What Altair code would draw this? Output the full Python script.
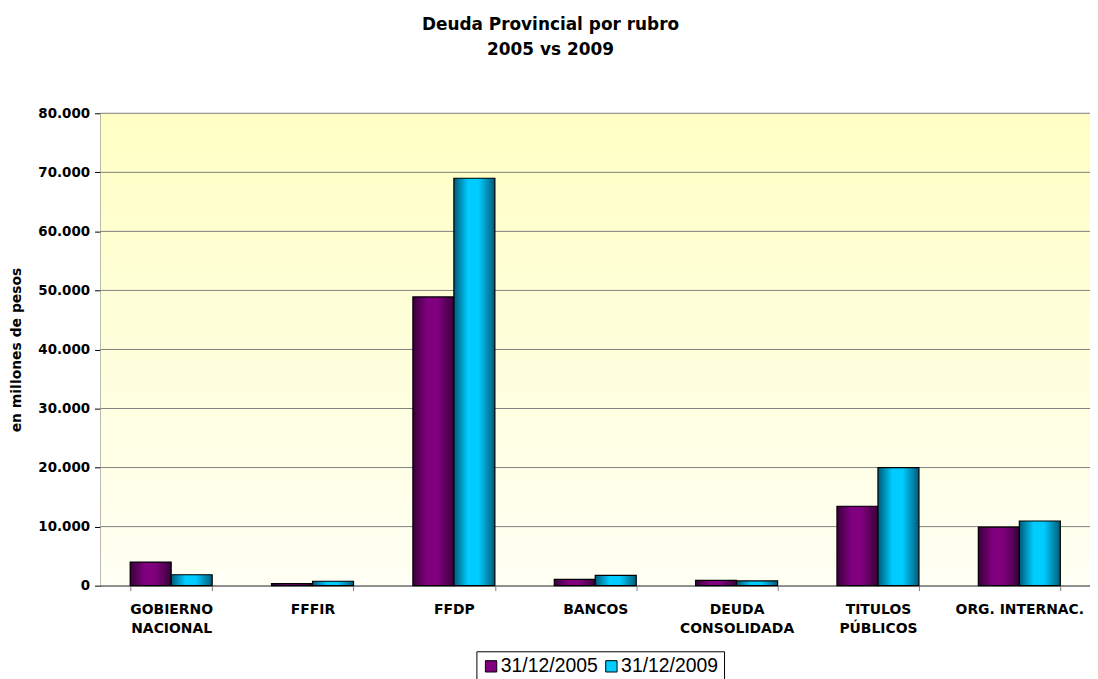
import altair as alt
import pandas as pd

# ---------------- data ----------------
categorias = ["GOBIERNO NACIONAL", "FFFIR", "FFDP", "BANCOS",
              "DEUDA CONSOLIDADA", "TITULOS PÚBLICOS", "ORG. INTERNAC."]
series = ["31/12/2005", "31/12/2009"]
valores_2005 = [4000, 350, 48900, 1050, 900, 13450, 9900]
valores_2009 = [1850, 750, 69000, 1750, 800, 20000, 10950]
y_ticks = [0, 10000, 20000, 30000, 40000, 50000, 60000, 70000, 80000]

titulo = ["Deuda Provincial por rubro", "2005 vs 2009"]
titulo_y = "en millones de pesos"

# ---------------- styles ----------------
purple = "#800080"
purple_dark = "#3a003a"
cyan = "#00CCFF"
cyan_dark = "#005a78"
FONT = "DejaVu Sans"
LEG_FONT = "Liberation Sans"

rows = []
for c, a, b in zip(categorias, valores_2005, valores_2009):
    rows.append({"rubro": c, "serie": series[0], "valor": a})
    rows.append({"rubro": c, "serie": series[1], "valor": b})
df = pd.DataFrame(rows)
grid_df = pd.DataFrame({"v": y_ticks})

W, H = 995, 475


def grad(dark, bright):
    return {
        "gradient": "linear", "x1": 0, "y1": 0, "x2": 1, "y2": 0,
        "stops": [
            {"offset": 0, "color": dark},
            {"offset": 0.35, "color": bright},
            {"offset": 0.6, "color": bright},
            {"offset": 1, "color": dark},
        ],
    }


bg_grad = {
    "gradient": "linear", "x1": 0, "y1": 0, "x2": 0, "y2": 1,
    "stops": [
        {"offset": 0, "color": "#FFFFC4"},
        {"offset": 1, "color": "#FFFFF4"},
    ],
}

y_scale = alt.Scale(domain=[0, 80000], nice=False, zero=True)
y_axis = alt.Axis(
    values=y_ticks, grid=False, title=titulo_y,
    labelExpr="replace(format(datum.value, ','), ',', '.')",
    labelFont=FONT, labelFontSize=13.5, labelFontWeight="bold", labelColor="black",
    labelPadding=5, tickSize=6, tickColor="black", domainColor="black",
    titleFont=FONT, titleFontSize=14, titleFontWeight="bold", titleColor="black",
    titlePadding=14,
)

x_enc = alt.X(
    "rubro:N", sort=categorias,
    scale=alt.Scale(domain=categorias, paddingInner=0.42, paddingOuter=0.21),
    axis=alt.Axis(
        title=None, labelAngle=0, tickBand="extent",
        labelExpr="indexof(datum.label, '.') >= 0 ? datum.label : split(datum.label, ' ')",
        labelFont=FONT, labelFontSize=14, labelFontWeight="bold", labelColor="black",
        labelLineHeight=19, labelPadding=12, labelLimit=200,
        tickSize=5, tickColor="#808080", domainColor="#909090", domainWidth=1.5,
    ),
)
xoff = alt.XOffset("serie:N", sort=series, scale=alt.Scale(domain=series, paddingInner=0, paddingOuter=0))

background = alt.Chart(pd.DataFrame({"a": [0]})).mark_rect(fill=bg_grad).encode(
    x=alt.value(0), x2=alt.value(W), y=alt.value(0), y2=alt.value(H)
)

grid = alt.Chart(grid_df).mark_rule(color="#808080", strokeWidth=1).encode(
    y=alt.Y("v:Q", scale=y_scale, axis=y_axis)
)

bars_legend = alt.Chart(df).mark_bar().encode(
    x=x_enc,
    xOffset=xoff,
    y=alt.Y("valor:Q", scale=y_scale, axis=y_axis),
    color=alt.Color(
        "serie:N", sort=series,
        scale=alt.Scale(domain=series, range=[purple, cyan]),
        legend=alt.Legend(
            title=None, orient="none", direction="horizontal",
            legendX=378, legendY=541,
            symbolType="square", symbolSize=130, symbolStrokeColor="black",
            symbolStrokeWidth=1, symbolOpacity=1,
            labelFont=LEG_FONT, labelFontSize=19.5, labelColor="black",
            labelOffset=0, columnPadding=3,
            strokeColor="black", padding=5, fillColor="white",
        ),
    ),
)

bars_grad = alt.Chart(df).mark_bar(stroke="black", strokeWidth=1.2).encode(
    x=x_enc,
    xOffset=xoff,
    y=alt.Y("valor:Q", scale=y_scale, axis=y_axis),
    fill=alt.condition(
        alt.datum.serie == series[0],
        alt.value(grad(purple_dark, purple)),
        alt.value(grad(cyan_dark, cyan)),
    ),
)

chart = alt.layer(background, grid, bars_legend, bars_grad).properties(
    width=W, height=H,
    autosize=alt.AutoSizeParams(type="none"),
    padding={"left": 93, "top": 104, "right": 0, "bottom": 92},
    title=alt.Title(
        titulo, font=FONT, fontSize=17, fontWeight="bold", color="black",
        anchor="middle", dx=-45, offset=48, lineHeight=25,
    ),
).configure_view(stroke=None).configure(background="white")

chart.save("out.html", embed_options={"renderer": "svg", "actions": False})
